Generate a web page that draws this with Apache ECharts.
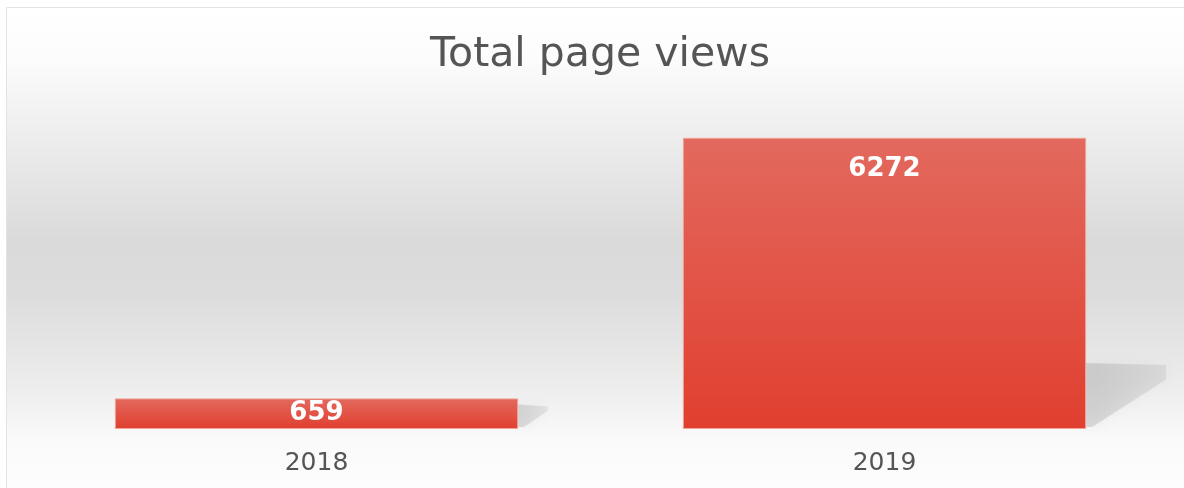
<!DOCTYPE html>
<html>
<head>
<meta charset="utf-8">
<script src="https://cdn.jsdelivr.net/npm/echarts@6/dist/echarts.min.js"></script>
<style>
html,body{margin:0;padding:0;background:#fff;}
#chart{width:1184px;height:488px;}
</style>
</head>
<body>
<div id="chart"></div>
<script>
const categories = ['2018', '2019'];
const pageViews = [659, 6272];
const chartTitle = 'Total page views';

const chart = echarts.init(document.getElementById('chart'), null, {renderer: 'canvas'});

const option = {
  animation: false,
  backgroundColor: '#ffffff',
  graphic: [{
    type: 'rect',
    z: -10,
    silent: true,
    shape: {x: 6.5, y: 7.5, width: 1200, height: 520},
    style: {
      stroke: '#e3e3e3',
      lineWidth: 1,
      fill: {
        type: 'linear', x: 0, y: 0, x2: 0, y2: 1, global: false,
        colorStops: [
          {offset: 0, color: '#ffffff'},
          {offset: 0.10, color: '#fcfcfc'},
          {offset: 0.24, color: '#eeeeee'},
          {offset: 0.45, color: '#dadada'},
          {offset: 0.55, color: '#dcdcdc'},
          {offset: 0.72, color: '#ececec'},
          {offset: 0.83, color: '#fafafa'},
          {offset: 1, color: '#ffffff'}
        ]
      }
    }
  }],
  title: {
    text: chartTitle,
    left: 600,
    textAlign: 'center',
    top: 35,
    padding: 0,
    textStyle: {
      fontFamily: 'DejaVu Sans',
      fontSize: 41,
      fontWeight: 'normal',
      color: '#555555'
    }
  },
  grid: {left: 32.5, right: 15.5, top: 104, bottom: 59, containLabel: false},
  xAxis: {
    type: 'category',
    data: categories,
    axisLine: {show: false},
    axisTick: {show: false},
    axisLabel: {
      margin: 22,
      fontFamily: 'DejaVu Sans',
      fontSize: 25,
      color: '#555555'
    }
  },
  yAxis: {
    type: 'value',
    min: 0,
    max: 7000,
    show: false,
    splitLine: {show: false}
  },
  series: [
    {
      type: 'custom',
      z: 1,
      silent: true,
      data: pageViews.map((v, i) => [i, v]),
      renderItem: function (params, api) {
        const idx = api.value(0);
        const val = api.value(1);
        const base = api.coord([idx, 0]);
        const top = api.coord([idx, val]);
        const band = api.size([1, 0])[0];
        const right = base[0] + band * 0.355;
        const barH = base[1] - top[1];
        const h = Math.min(66, barH * 0.8);
        const w = 80 * h / 66;
        return {
          type: 'polygon',
          shape: {
            points: [
              [right, base[1] - h],
              [right + w, base[1] - h + 2],
              [right + w, base[1] - h + h * 0.25],
              [right + 6, base[1] - 2],
              [right, base[1] - 2]
            ]
          },
          style: {
            fill: {
              type: 'linear', x: 0, y: 0, x2: 1, y2: 0,
              colorStops: [
                {offset: 0, color: 'rgba(110,110,110,0.22)'},
                {offset: 1, color: 'rgba(110,110,110,0.12)'}
              ]
            },
            shadowBlur: 14,
            shadowColor: 'rgba(110,110,110,0.35)'
          }
        };
      }
    },
    {
      type: 'bar',
      z: 2,
      data: pageViews.map((v, i) => ({
        value: v,
        label: i === 0 ? {position: 'inside'} : {position: 'insideTop', distance: 18}
      })),
      barWidth: '71%',
      itemStyle: {
        borderColor: '#f0a497',
        borderWidth: 1,
        color: {
          type: 'linear', x: 0, y: 0, x2: 0, y2: 1,
          colorStops: [
            {offset: 0, color: '#e3695e'},
            {offset: 1, color: '#e03f2f'}
          ]
        }
      },
      label: {
        show: true,
        fontFamily: 'DejaVu Sans',
        fontSize: 26,
        fontWeight: 'bold',
        color: '#ffffff'
      }
    }
  ]
};

chart.setOption(option);
</script>
</body>
</html>
